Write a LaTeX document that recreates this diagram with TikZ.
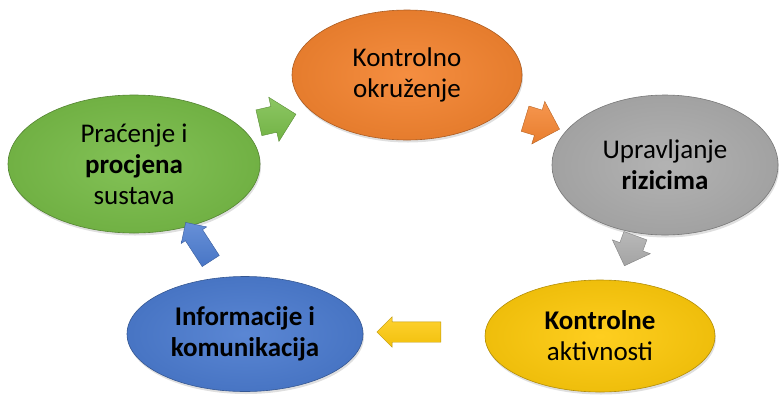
\documentclass[tikz,border=0pt]{standalone}
\usepackage{fontspec}
\setmainfont{Carlito}
\usepackage{xcolor}
\usepackage{tikz}
\usetikzlibrary{positioning, shapes.geometric, shapes.arrows, shadows}

\definecolor{korange}{RGB}{244,132,48}
\definecolor{kgray}{RGB}{172,172,172}
\definecolor{kyellow}{RGB}{254,202,12}
\definecolor{kblue}{RGB}{76,124,208}
\definecolor{kgreen}{RGB}{120,188,72}

\begin{document}
\begin{tikzpicture}[x=1pt, y=-1pt,
    bubble/.style={ellipse, inner sep=0pt, align=center, draw=#1!70!black, line width=0.6pt,
      inner color=#1!92!white, outer color=#1!94!black,
      drop shadow={opacity=0.25, shadow xshift=1pt, shadow yshift=-2.5pt},
      font=\fontsize{27}{31}\selectfont},
    blockarrow/.style={single arrow, inner xsep=0pt, draw=#1!75!black, line width=0.4pt,
      top color=#1!85!white, bottom color=#1!95!black}]
  \useasboundingbox (0,0) rectangle (779,394);

  \node[bubble=korange, minimum width=230, minimum height=130] (okruz) at (407,75)
        {Kontrolno\\okruženje};
  \node[bubble=kgray, minimum width=226, minimum height=140] (rizik) at (665,165)
        {Upravljanje\\\textbf{rizicima}};
  \node[bubble=kyellow, minimum width=230, minimum height=112] (aktiv) at (600,336)
        {\textbf{Kontrolne}\\aktivnosti};
  \node[bubble=kblue, minimum width=236, minimum height=115] (inform) at (245,334)
        {\textbf{Informacije i}\\\textbf{komunikacija}};
  \node[bubble=kgreen, minimum width=252, minimum height=138] (pracenje) at (134,164)
        {Praćenje i\\\textbf{procjena}\\sustava};

  % strelice izmedju koraka
  \node[blockarrow=kgreen, minimum height=38, inner ysep=13, single arrow head extend=9.5,
        rotate=13] (s1) at (271,120) {};
  \node[blockarrow=korange, minimum height=36, inner ysep=13, single arrow head extend=9,
        rotate=-17] (s2) at (536,122) {};
  \node[blockarrow=kgray, minimum height=32, inner ysep=12, single arrow head extend=8,
        rotate=-110] (s3) at (632,245) {};
  \node[blockarrow=kyellow, minimum height=64, inner ysep=10, single arrow head extend=5,
        rotate=180] (s4) at (414,332) {};
  \node[blockarrow=kblue, minimum height=46, inner ysep=10, single arrow head extend=5,
        rotate=123] (s5) at (201,246) {};

\end{tikzpicture}
\end{document}
